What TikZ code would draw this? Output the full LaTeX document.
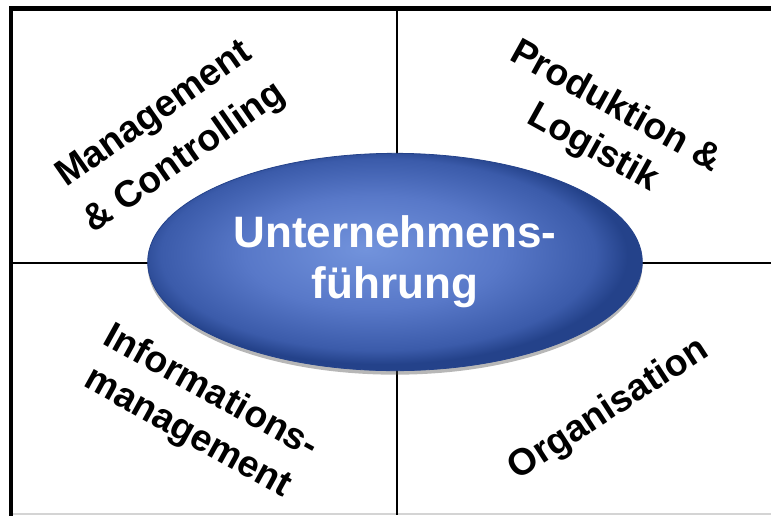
\documentclass[tikz,border=0pt]{standalone}
\usepackage{fontspec}
\setmainfont{Liberation Sans}
\usepackage{xcolor}
\usepackage{tikz}
\usetikzlibrary{shapes.geometric,shadows}
\definecolor{frame}{HTML}{000000}
\definecolor{edgeGray}{HTML}{D4D4D4}
\definecolor{hubLight}{HTML}{7293DC}
\definecolor{hubMid}{HTML}{5878C8}
\definecolor{hubDark}{HTML}{3B5BAA}
\definecolor{hubRim}{HTML}{24428A}
\pgfdeclareradialshading{hubShade}{\pgfpoint{-3bp}{3bp}}{%
  color(0bp)=(hubLight); color(13bp)=(hubMid); color(22bp)=(hubDark);
  color(25bp)=(hubRim); color(50bp)=(hubRim)}
\tikzset{
  outerFrame/.style={draw=frame, line width=3.7pt, line cap=rect},
  gridLine/.style={draw=frame, line width=1.4pt},
  hub/.style={ellipse, inner sep=0pt, minimum width=371pt, minimum height=163pt,
    shading=hubShade, draw=hubRim, line width=0.6pt,
    drop shadow={shadow xshift=0pt, shadow yshift=-3pt, opacity=0.4, fill=black!70},
    text=white, align=center, font=\bfseries\fontsize{33}{38}\selectfont},
  areaLbl/.style={align=center, inner sep=0pt, text=black,
    font=\bfseries\fontsize{28}{35}\selectfont},
}

\begin{document}
\begin{tikzpicture}[x=0.75pt, y=-0.75pt]
  \useasboundingbox (0,0) rectangle (771,515);

  % frame and quadrants
  \coordinate (frameBL) at (11,515);
  \coordinate (frameTL) at (11,8.5);
  \coordinate (frameTR) at (771,8.5);
  \coordinate (midTop) at (397,8.5);
  \coordinate (midBot) at (397,515);
  \coordinate (midL) at (11,263);
  \coordinate (midR) at (771,263);
  \draw[edgeGray, line width=0.8pt] (11,514) -- (771,514);
  \draw[gridLine] (midTop) -- (midBot);
  \draw[gridLine] (midL) -- (midR);
  \draw[outerFrame] (frameBL) -- (frameTL) -- (frameTR);

  \node[hub] (fuehrung) at (395,262) {Unternehmens-\\führung};

  \node[areaLbl, rotate=35, font=\bfseries\fontsize{28}{40}\selectfont]
    (mgmt) at (170,137) {Management\\\& Controlling};
  \node[areaLbl, rotate=-29] (prod) at (604,128) {Produktion \&\\Logistik};
  \node[areaLbl, rotate=-29] (info) at (199,413) {Informations-\\management};
  \node[areaLbl, rotate=33] (orga) at (609,410) {Organisation};
\end{tikzpicture}
\end{document}
